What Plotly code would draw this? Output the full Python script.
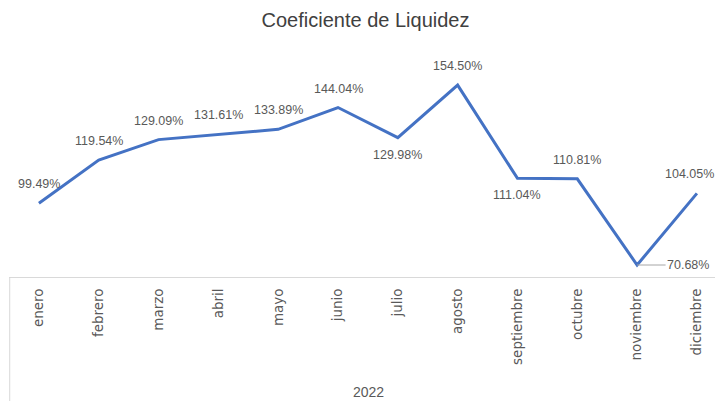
import plotly.graph_objects as go

months = ["enero", "febrero", "marzo", "abril", "mayo", "junio", "julio",
          "agosto", "septiembre", "octubre", "noviembre", "diciembre"]
values = [99.49, 119.54, 129.09, 131.61, 133.89, 144.04, 129.98,
          154.50, 111.04, 110.81, 70.68, 104.05]
label_pos = ["top", "top", "top", "top", "top", "top", "bottom",
             "top", "bottom", "top", "right", "top"]
year_label = "2022"
title = "Coeficiente de Liquidez"

fig = go.Figure()
fig.add_trace(go.Scatter(
    x=months, y=values, mode="lines",
    line=dict(color="#4472C4", width=3),
    hoverinfo="skip", showlegend=False,
))

lab_font = dict(family="Arial, Liberation Sans", size=12.5, color="#595959")
n = len(months)
for i, (m, v, p) in enumerate(zip(months, values, label_pos)):
    txt = f"{v:.2f}%"
    if p == "right":
        fig.add_annotation(x=m, y=v, text=txt, showarrow=True, arrowhead=0,
                           arrowwidth=1, arrowcolor="#A6A6A6", ax=51, ay=0,
                           font=lab_font)
    else:
        fig.add_annotation(x=m, y=v, text=txt, showarrow=False,
                           yshift=19 if p == "top" else -17,
                           xshift=-7 if i == n - 1 else 0,
                           font=lab_font)

fig.add_annotation(x=0.503, y=-0.485, xref="paper", yref="paper", text=year_label,
                   showarrow=False, yanchor="middle",
                   font=dict(family="Arial, Liberation Sans", size=14, color="#595959"))

fig.add_shape(type="line", xref="paper", yref="paper", x0=0.001, x1=0.001, y0=0, y1=-0.53,
              line=dict(color="#D9D9D9", width=1))

# page body has an 8px margin, so the figure is sized/offset to fit the window
fig.update_layout(
    width=715, height=393,
    margin=dict(l=1, r=0, t=32, b=124),
    paper_bgcolor="white", plot_bgcolor="white",
    title=dict(text=title, x=0.5, xanchor="center", y=0.97, yanchor="middle",
               font=dict(family="Arial, Liberation Sans", size=20, color="#404040")),
    xaxis=dict(type="category", range=[-0.5, 11.436], showgrid=False,
               showline=True, linecolor="#D9D9D9", linewidth=1, ticks="",
               tickangle=-90, ticklabelstandoff=5,
               tickfont=dict(family="DejaVu Sans", size=13.5, color="#595959")),
    yaxis=dict(range=[65.09, 175.5], visible=False, showgrid=False, zeroline=False),
)

fig.write_html("out.html")
